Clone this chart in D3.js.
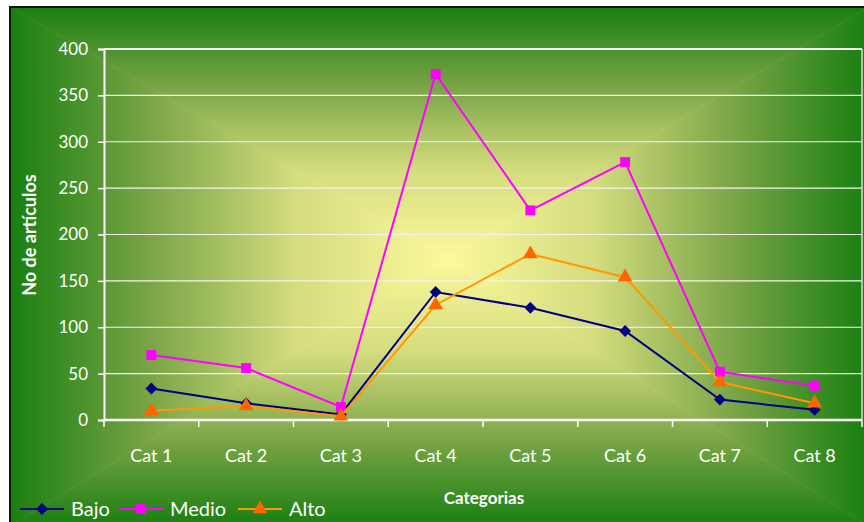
<!DOCTYPE html>
<html>
<head>
<meta charset="utf-8">
<script src="https://cdn.jsdelivr.net/npm/d3@7"></script>
<style>
  body { margin: 0; background: #fff; }
  svg { display: block; font-family: Lato, "Open Sans", sans-serif; }
</style>
</head>
<body>
<div id="chart"></div>
<script>
// Data
const categories = ["Cat 1", "Cat 2", "Cat 3", "Cat 4", "Cat 5", "Cat 6", "Cat 7", "Cat 8"];
const bajo = [34, 18, 6, 138, 121, 96, 22, 11];
const medio = [70, 56, 14, 373, 226, 278, 52, 37];
const alto = [10, 15, 4, 124, 179, 154, 41, 18];
const yTicks = [0, 50, 100, 150, 200, 250, 300, 350, 400];

const series = [
    { name: "Bajo", values: bajo, line: "#000080", fill: "#000080", symbol: d3.symbolSquare, size: 70, rot: 45 },
    { name: "Medio", values: medio, line: "#ff00ff", fill: "#ff00ff", symbol: d3.symbolSquare, size: 100, rot: 0 },
    { name: "Alto", values: alto, line: "#ff9900", fill: "#ff6600", symbol: d3.symbolTriangle, size: 95, rot: 0 }
];

const W = 864, H = 522;
const margin = { top: 49, right: 2, bottom: 102, left: 104 };
const width = W - margin.left - margin.right;
const height = H - margin.top - margin.bottom;

const root = d3.select("#chart")
    .append("svg")
    .attr("width", W)
    .attr("height", H);

// Background: rectangular "from center" gradient built from four triangles
const area = { x0: 10, y0: 7, x1: 868, y1: 526 };
const cx = 448, cy = 258;
const stops = [[0, "#187f10"], [0.3, "#74a243"], [0.65, "#d4dc7e"], [1, "#fbf99b"]];
const defs = root.append("defs");

const sides = [
    { id: "gTop", pts: [[area.x0, area.y0], [area.x1, area.y0], [cx, cy]], g: [0, area.y0, 0, cy] },
    { id: "gBot", pts: [[area.x0, area.y1], [area.x1, area.y1], [cx, cy]], g: [0, area.y1, 0, cy] },
    { id: "gLeft", pts: [[area.x0, area.y0], [area.x0, area.y1], [cx, cy]], g: [area.x0, 0, cx, 0] },
    { id: "gRight", pts: [[area.x1, area.y0], [area.x1, area.y1], [cx, cy]], g: [area.x1, 0, cx, 0] }
];

sides.forEach(function (s) {
    const lg = defs.append("linearGradient")
        .attr("id", s.id)
        .attr("gradientUnits", "userSpaceOnUse")
        .attr("x1", s.g[0]).attr("y1", s.g[1])
        .attr("x2", s.g[2]).attr("y2", s.g[3]);
    stops.forEach(st => lg.append("stop").attr("offset", st[0]).attr("stop-color", st[1]));
    root.append("polygon")
        .attr("points", s.pts.map(p => p.join(",")).join(" "))
        .attr("fill", `url(#${s.id})`)
        .attr("stroke", `url(#${s.id})`)
        .attr("stroke-width", 0.6);
});

// chart area border (top and left visible)
root.append("path")
    .attr("d", `M${area.x0},${area.y1} V${area.y0} H${area.x1}`)
    .attr("fill", "none")
    .attr("stroke", "#0a1a05")
    .attr("stroke-width", 2);

const svg = root.append("g")
    .attr("transform", `translate(${margin.left},${margin.top})`);

// Scales
const x = d3.scaleBand()
    .domain(categories)
    .range([0, width]);

const y = d3.scaleLinear()
    .domain([0, 400])
    .range([height, 0]);

// Gridlines
svg.append("g")
    .selectAll("line")
    .data(yTicks.filter(t => t > 0))
    .enter()
    .append("line")
    .attr("x1", 0)
    .attr("x2", width)
    .attr("y1", d => y(d))
    .attr("y2", d => y(d))
    .attr("stroke", "#f4f4ee")
    .attr("stroke-width", d => d === 400 ? 2 : 1.2);

// Right border of plot area
svg.append("line")
    .attr("x1", width).attr("x2", width)
    .attr("y1", 0).attr("y2", height)
    .attr("stroke", "#d8d8d0")
    .attr("stroke-width", 1.5);

// Y axis
const yAxis = svg.append("g")
    .call(d3.axisLeft(y).tickValues(yTicks).tickSize(6).tickPadding(10));
yAxis.select(".domain").attr("stroke", "#fff").attr("stroke-width", 2);
yAxis.selectAll(".tick line").attr("stroke", "#fff").attr("stroke-width", 1.5);
yAxis.selectAll(".tick text")
    .attr("fill", "#fff")
    .attr("font-size", 17)
    .attr("font-family", "Lato, sans-serif");

// X axis: ticks between categories
const xAxisG = svg.append("g")
    .attr("transform", `translate(0,${height})`);
xAxisG.append("line")
    .attr("x1", 0).attr("x2", width)
    .attr("stroke", "#fff").attr("stroke-width", 2.5);
xAxisG.selectAll(".xtick")
    .data(categories.concat([null]))
    .enter()
    .append("line")
    .attr("class", "xtick")
    .attr("x1", (d, i) => i * x.step())
    .attr("x2", (d, i) => i * x.step())
    .attr("y1", 0)
    .attr("y2", 7)
    .attr("stroke", "#fff")
    .attr("stroke-width", 1.5);
xAxisG.selectAll(".xlabel")
    .data(categories)
    .enter()
    .append("text")
    .attr("class", "xlabel")
    .attr("x", d => x(d) + x.bandwidth() / 2)
    .attr("y", 42)
    .attr("text-anchor", "middle")
    .attr("fill", "#fff")
    .attr("font-size", 18)
    .text(d => d);

// Axis titles
svg.append("text")
    .attr("transform", `translate(${36 - margin.left},${186}) rotate(-90)`)
    .attr("text-anchor", "middle")
    .attr("fill", "#fff")
    .attr("font-size", 18)
    .attr("font-weight", "bold")
    .text("No de artículos");

svg.append("text")
    .attr("x", 484 - margin.left)
    .attr("y", height + 84)
    .attr("text-anchor", "middle")
    .attr("fill", "#fff")
    .attr("font-size", 17)
    .attr("font-weight", "bold")
    .text("Categorias");

// Lines and markers
const line = d3.line()
    .x((d, i) => x(categories[i]) + x.bandwidth() / 2)
    .y(d => y(d));

series.forEach(function (s) {
    svg.append("path")
        .datum(s.values)
        .attr("fill", "none")
        .attr("stroke", s.line)
        .attr("stroke-width", 2)
        .attr("d", line);

    svg.selectAll(null)
        .data(s.values)
        .enter()
        .append("path")
        .attr("d", d3.symbol().type(s.symbol).size(s.size))
        .attr("transform", (d, i) => `translate(${x(categories[i]) + x.bandwidth() / 2},${y(d)}) rotate(${s.rot})`)
        .attr("fill", s.fill);
});

// Legend
const legendX = [20, 119, 238];
const legend = root.append("g")
    .attr("transform", "translate(0,509)");
series.forEach(function (s, i) {
    const g = legend.append("g")
        .attr("transform", `translate(${legendX[i]},0)`);
    g.append("line")
        .attr("x1", 0).attr("x2", 44)
        .attr("stroke", s.line)
        .attr("stroke-width", 2);
    g.append("path")
        .attr("d", d3.symbol().type(s.symbol).size(s.size))
        .attr("transform", `translate(22,0) rotate(${s.rot})`)
        .attr("fill", s.fill);
    g.append("text")
        .attr("x", 51)
        .attr("y", 7)
        .attr("fill", "#fff")
        .attr("font-size", 20)
        .text(s.name);
});
</script>
</body>
</html>
